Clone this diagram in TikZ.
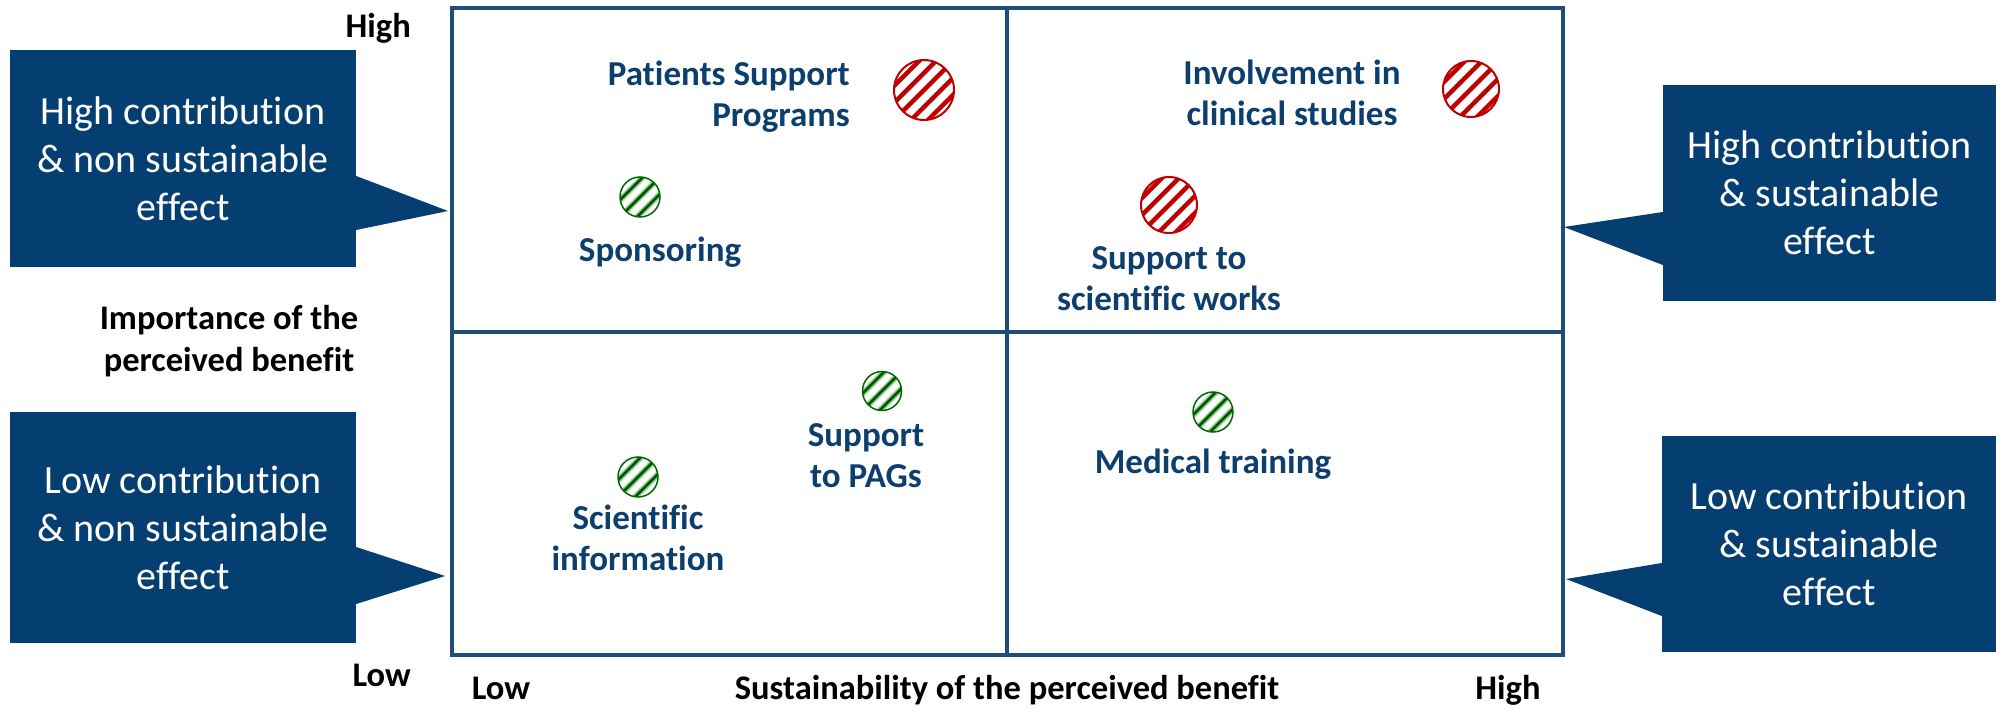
\documentclass[tikz,border=0pt]{standalone}
\usepackage{fontspec}
\setmainfont{Carlito}[Ligatures=NoCommon]
\definecolor{cfill}{RGB}{5,62,112}
\definecolor{qline}{RGB}{31,78,121}
\definecolor{ltext}{RGB}{12,62,110}
\definecolor{mred}{RGB}{192,0,0}
\definecolor{mgreen}{RGB}{0,105,0}
\definecolor{lgreen}{RGB}{150,210,150}
\begin{document}
\begin{tikzpicture}[x=1pt,y=-1pt,
  calloutbox/.style={fill=cfill, text=white, font=\fontsize{40}{48}\selectfont, align=center, inner sep=0},
  pointer/.style={fill=cfill},
  quad/.style={draw=qline, line width=4},
  lbl/.style={text=ltext, font=\fontsize{35}{41}\selectfont\bfseries, align=center, inner sep=0},
  axlbl/.style={text=black, font=\fontsize{34.5}{42}\selectfont\bfseries, align=center, inner sep=0},
  redmark/.style={circle, draw=mred, line width=2, fill=white, inner sep=0, minimum size=#1,
    path picture={\foreach \k in {-4,...,4}{\draw[line width=4.5, mred] ([shift={(\k*8.5pt,-\k*8.5pt)}]path picture bounding box.center) ++(-45pt,-45pt) -- ++(90pt,90pt);}}},
  greenmark/.style={circle, draw=mgreen, line width=1.5, fill=white, inner sep=0, minimum size=#1,
    path picture={\foreach \k in {-3,...,3}{\draw[line width=6, lgreen] ([shift={(\k*8.5pt,-\k*8.5pt)}]path picture bounding box.center) ++(-30pt,-30pt) -- ++(60pt,60pt);
      \draw[line width=2.5, mgreen!80!black] ([shift={(\k*8.5pt,-\k*8.5pt)}]path picture bounding box.center) ++(-30pt,-30pt) -- ++(60pt,60pt);}}}
]
\useasboundingbox (0,0) rectangle (2000,711);

% quadrant frame
\coordinate (q1) at (452,8);
\coordinate (q2) at (1563,655);
\draw[quad] (q1) rectangle (q2);
\coordinate (vt) at (1007,8);
\coordinate (vb) at (1007,655);
\coordinate (hl) at (452,332);
\coordinate (hr) at (1563,332);
\draw[quad] (vt) -- (vb);
\draw[quad] (hl) -- (hr);

% callouts
\node[calloutbox, minimum width=346, minimum height=217] (c1) at (183,158.5) {High contribution\\\& non sustainable\\effect};
\coordinate (t1) at (448,211);
\fill[pointer] (c1.east |- 0,176) -- (t1) -- (c1.east |- 0,230) -- cycle;

\node[calloutbox, minimum width=346, minimum height=231] (c2) at (183,527.5) {Low contribution\\\& non sustainable\\effect};
\coordinate (t2) at (445,576);
\fill[pointer] (c2.east |- 0,547) -- (t2) -- (c2.east |- 0,604) -- cycle;

\node[calloutbox, minimum width=333, minimum height=216] (c3) at (1829.5,193) {High contribution\\\& sustainable\\effect};
\coordinate (t3) at (1564,227);
\fill[pointer] (c3.west |- 0,212) -- (t3) -- (c3.west |- 0,265) -- cycle;

\node[calloutbox, minimum width=334, minimum height=216] (c4) at (1829,544) {Low contribution\\\& sustainable\\effect};
\coordinate (t4) at (1566,579);
\fill[pointer] (c4.west |- 0,563) -- (t4) -- (c4.west |- 0,616) -- cycle;

% markers
\node[redmark=60] (m1) at (924,90) {};
\node[greenmark=40] (m2) at (640,197) {};
\node[redmark=56] (m3) at (1471,89) {};
\node[redmark=56] (m4) at (1169,205) {};
\node[greenmark=39] (m5) at (882,391) {};
\node[greenmark=40] (m6) at (638,477) {};
\node[greenmark=40] (m7) at (1213,412) {};

% labels
\node[lbl, align=right, anchor=east] (l1) at (850,97) {Patients Support\\Programs};
\node[lbl, anchor=base] (l2) at (660,262) {Sponsoring};
\node[lbl] (l3) at (1292,93) {Involvement in\\clinical studies};
\node[lbl] (l4) at (1169,279) {Support to\\scientific works};
\node[lbl] (l5) at (866,456) {Support\\to PAGs};
\node[lbl] (l6) at (638,537.5) {Scientific\\information};
\node[lbl, anchor=base] (l7) at (1213,473) {Medical training};

% axis labels
\node[axlbl] (ay) at (229,341.5) {Importance of the\\perceived benefit};
\node[axlbl, anchor=base east] (yh) at (411,38) {High};
\node[axlbl, anchor=base east] (yl) at (411,686) {Low};
\node[axlbl, anchor=base] (xl) at (501,699) {Low};
\node[axlbl, anchor=base] (ax) at (1007,699) {Sustainability of the perceived benefit};
\node[axlbl, anchor=base] (xh) at (1508,699) {High};
\end{tikzpicture}
\end{document}
